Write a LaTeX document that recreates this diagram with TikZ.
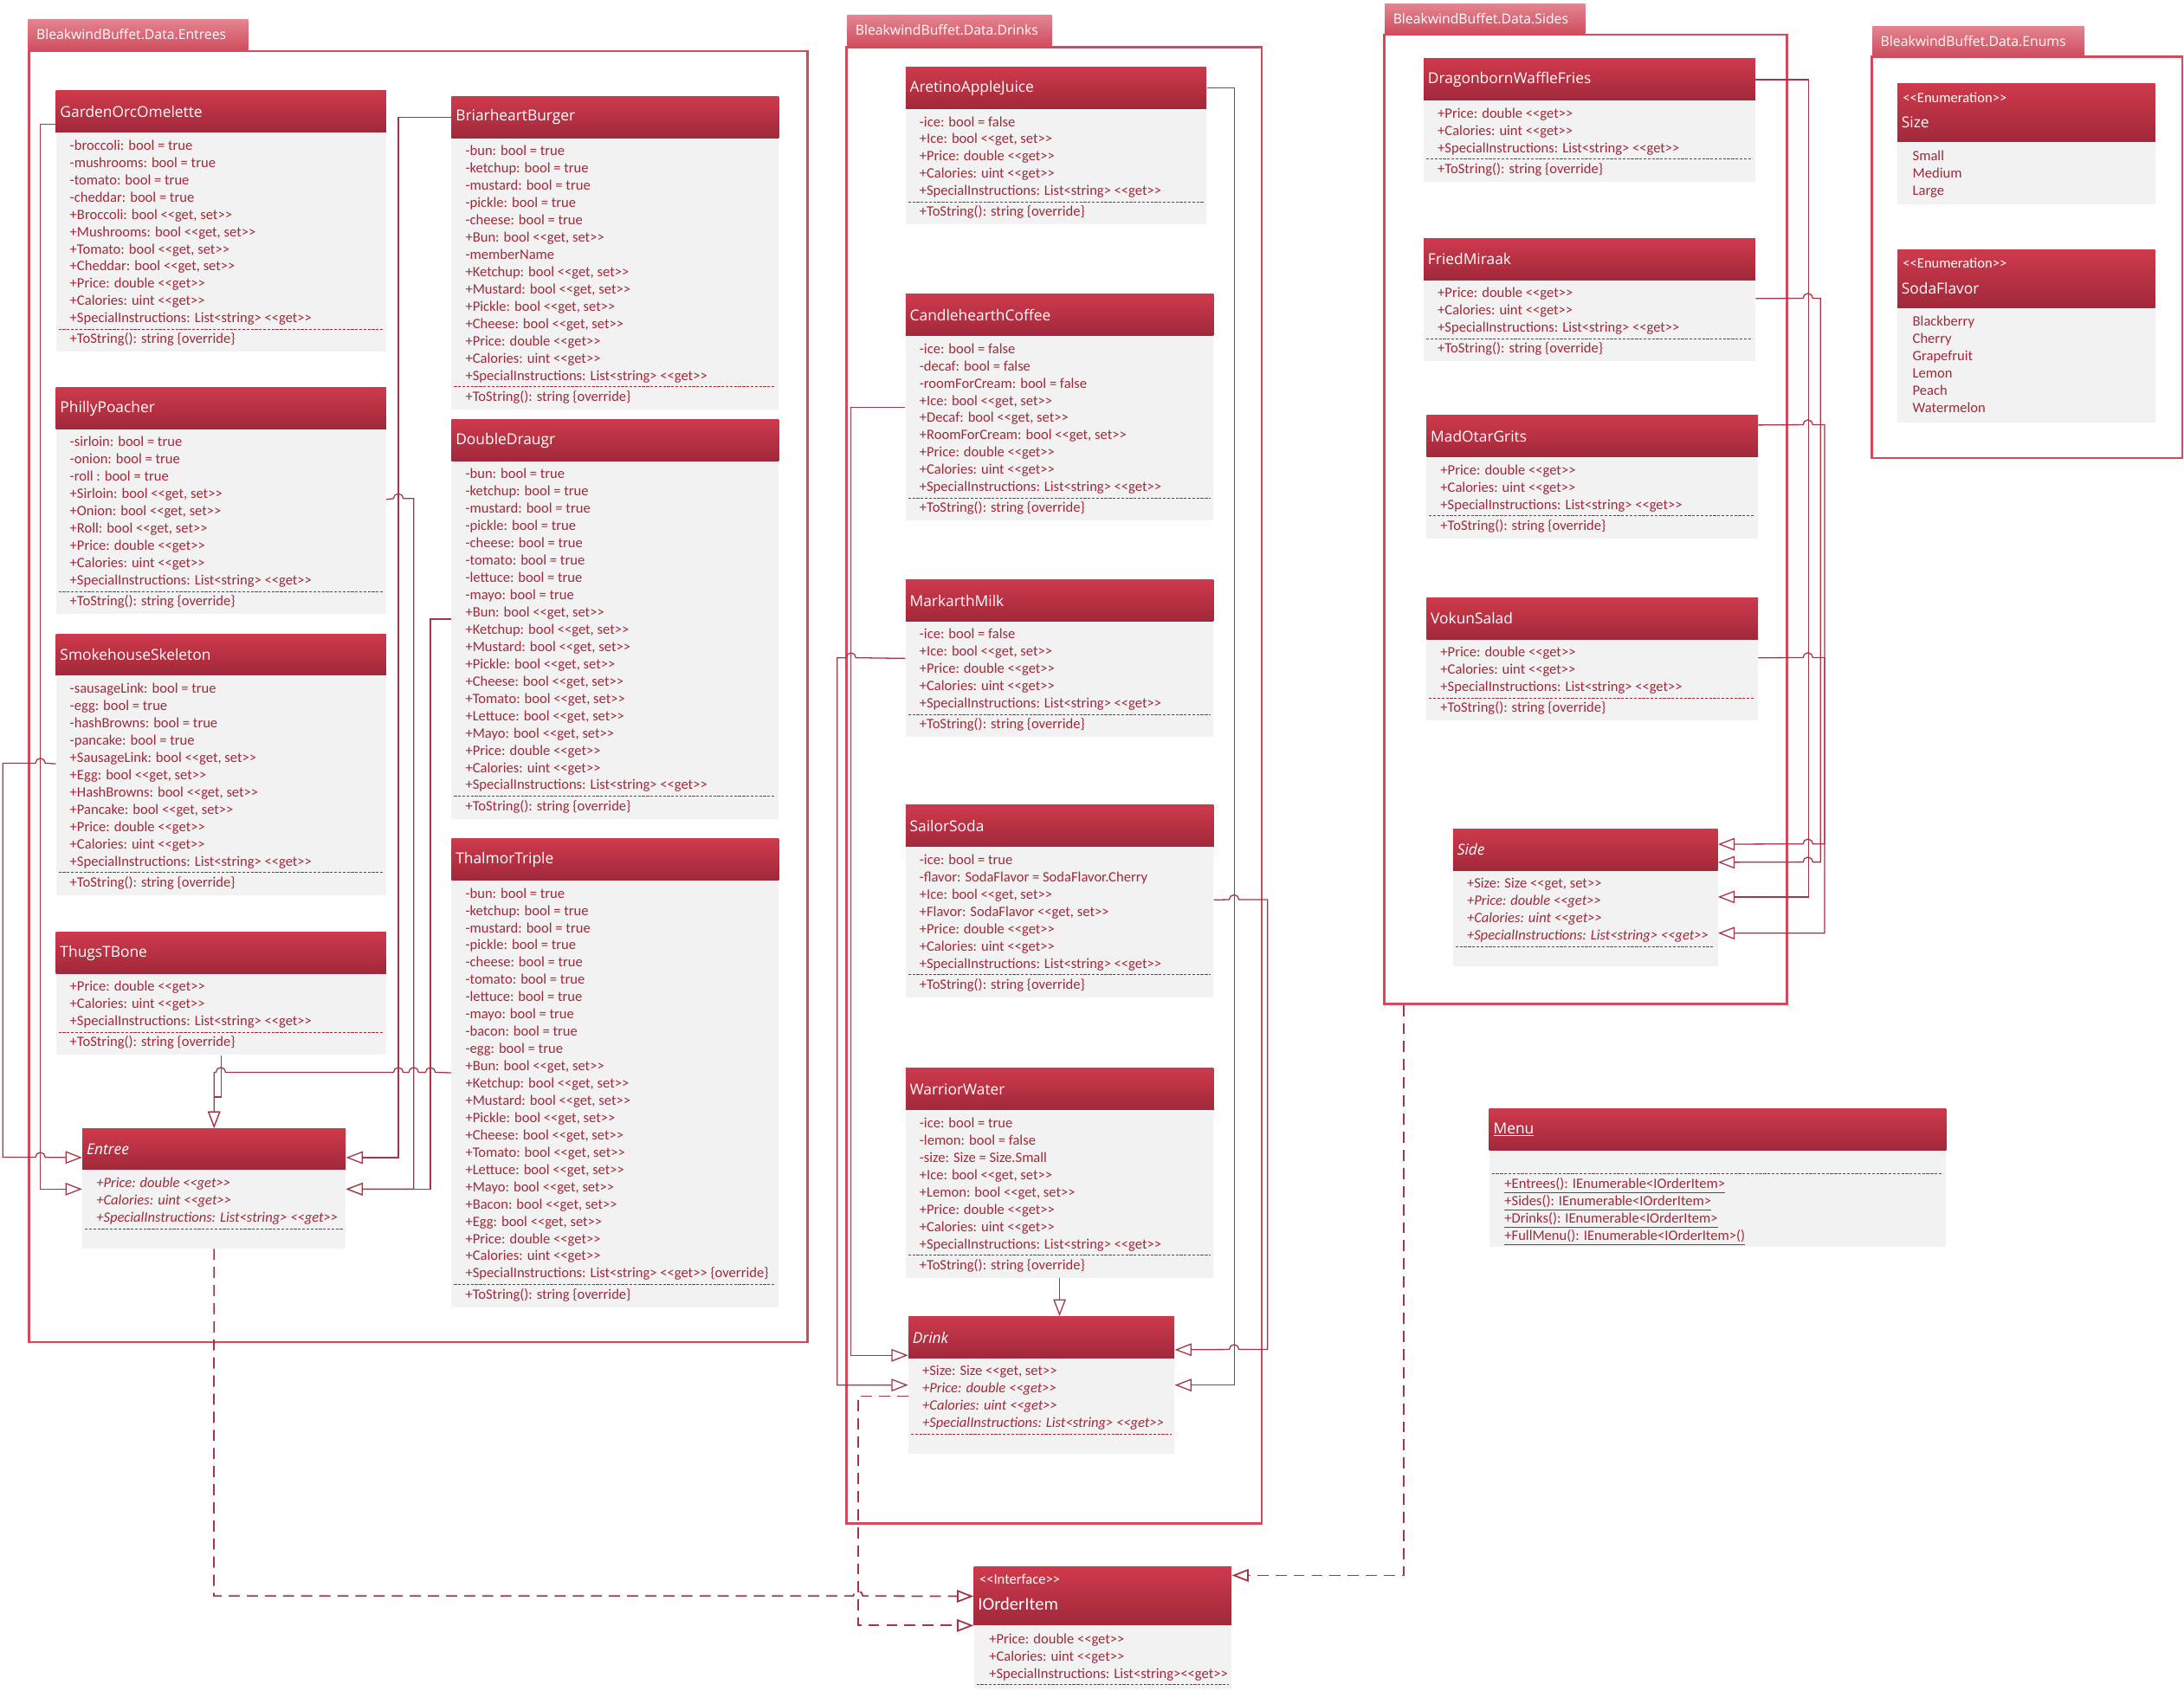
\documentclass[tikz,border=0pt]{standalone}
\usepackage{fontspec}
\setmainfont{Carlito}[Ligatures=TeXOff]
\newfontfamily\titlefont{Open Sans}[Ligatures=TeXOff]
\usetikzlibrary{arrows.meta}

\definecolor{hdrTop}{HTML}{CE3A4C}
\definecolor{hdrBot}{HTML}{A0283A}
\definecolor{bodyFill}{HTML}{F2F2F2}
\definecolor{txtRed}{HTML}{9E2A3A}
\definecolor{frameCol}{HTML}{D24A5C}
\definecolor{tabTop}{HTML}{E38590}
\definecolor{tabBot}{HTML}{D04E5F}
\definecolor{connCol}{HTML}{A53444}

\newcount\umlrows
\newcount\umlmeths

\tikzset{
  hdrbox/.style={top color=hdrTop, bottom color=hdrBot, draw=none, inner xsep=3pt, inner ysep=0pt, align=left, text=white, font=\titlefont\fontsize{10.8}{13}\selectfont},
  bodybox/.style={fill=bodyFill, draw=none, inner sep=0pt},
  rowtxt/.style={text=txtRed, inner sep=0pt, font=\fontsize{10.3}{12}\selectfont},
  stereotxt/.style={text=white, inner sep=0pt, font=\fontsize{10.3}{12}\selectfont},
  titletxt/.style={text=white, inner sep=0pt, font=\titlefont\fontsize{10.8}{13}\selectfont},
  ititletxt/.style={text=white, inner sep=0pt, font=\fontsize{12.8}{14}\selectfont},
  sepline/.style={draw=txtRed, dash pattern=on 2pt off 1pt, line width=0.6pt},
  pkgframe/.style={draw=frameCol, line width=1.6pt, inner sep=0pt},
  pkgtab/.style={top color=tabTop, bottom color=tabBot, draw=none, text=white, inner xsep=6pt, inner ysep=0pt, align=left, font=\titlefont\fontsize{9.8}{11}\selectfont},
  gen/.style={draw=connCol, line width=0.8pt, -{Triangle[open, length=12pt, width=9pt, fill=white]}},
  real/.style={gen, dash pattern=on 8pt off 5pt, line width=1.1pt},
}

% name, x1, x2, header top, header bottom, title, attributes, methods
\newcommand\umlclass[8]{%
  \pgfmathsetmacro\ucw{#3-#2}%
  \pgfmathsetmacro\uctw{#3-#2-6}%
  \pgfmathsetmacro\uchh{#5-#4}%
  \global\umlrows=0
  \foreach \rowtext in {#7} {\global\advance\umlrows by 1 }%
  \global\umlmeths=0
  \if\relax\detokenize{#8}\relax\else
    \foreach \rowtext in {#8} {\global\advance\umlmeths by 1 }%
  \fi
  \pgfmathsetmacro\udashy{#5+9.5+12.4*(\the\umlrows-1)+8}%
  \ifnum\umlmeths=0
    \pgfmathsetmacro\ubot{\udashy+14}%
  \else
    \pgfmathsetmacro\ubot{\udashy+7+12.4*(\the\umlmeths-1)+9}%
  \fi
  \pgfmathsetmacro\ubh{\ubot-#5}%
  \node[hdrbox, minimum width=\ucw pt, minimum height=\uchh pt, text width=\uctw pt, anchor=north west] (#1) at (#2,-#4) {#6};
  \node[bodybox, minimum width=\ucw pt, minimum height=\ubh pt, anchor=north west] (#1-body) at (#2,-#5) {};
  \foreach \rowtext [count=\i] in {#7} {%
    \pgfmathsetmacro\ury{#5+9.5+12.4*(\i-1)+3.3}%
    \node[rowtxt, anchor=base west] (#1-a\i) at ({#2+10},-\ury) {\rowtext};
  }
  \draw[sepline] ({#2+2},-\udashy) -- ({#3-2},-\udashy);
  \ifnum\umlmeths>0
    \foreach \rowtext [count=\i] in {#8} {%
      \pgfmathsetmacro\ury{\udashy+7+12.4*(\i-1)+3.3}%
      \node[rowtxt, anchor=base west] (#1-m\i) at ({#2+10},-\ury) {\rowtext};
    }
  \fi
}

% name, x1, x2, header top, header bottom, title, items
\newcommand\umlenum[7]{%
  \pgfmathsetmacro\ucw{#3-#2}%
  \pgfmathsetmacro\uchh{#5-#4}%
  \global\umlrows=0
  \foreach \rowtext in {#7} {\global\advance\umlrows by 1 }%
  \pgfmathsetmacro\ubh{10+12.4*(\the\umlrows-1)+10}%
  \node[hdrbox, minimum width=\ucw pt, minimum height=\uchh pt, anchor=north west] (#1) at (#2,-#4) {};
  \node[stereotxt, anchor=west] (#1-st) at ({#2+4},{-(#4+10)}) {<<Enumeration>>};
  \node[titletxt, anchor=west] (#1-ti) at ({#2+3},{-(#4+28)}) {#6};
  \node[bodybox, minimum width=\ucw pt, minimum height=\ubh pt, anchor=north west] (#1-body) at (#2,-#5) {};
  \foreach \rowtext [count=\i] in {#7} {%
    \pgfmathsetmacro\ury{#5+10+12.4*(\i-1)+3.3}%
    \node[rowtxt, anchor=base west] (#1-a\i) at ({#2+11},-\ury) {\rowtext};
  }
}

\begin{document}
\begin{tikzpicture}[x=1pt,y=1pt]
\path[use as bounding box] (0,0) rectangle (1568,-1214);

% ---------------- packages ----------------
\node[pkgframe, minimum width=559pt, minimum height=927pt, anchor=north west] (entreesPkg) at (20,-36) {};
\node[pkgtab, minimum height=22pt, text width=146pt, anchor=south west] (entreesTab) at (20,-36) {BleakwindBuffet.Data.Entrees};
\node[pkgframe, minimum width=298pt, minimum height=1060pt, anchor=north west] (drinksPkg) at (607,-33) {};
\node[pkgtab, minimum height=22pt, text width=135pt, anchor=south west] (drinksTab) at (608,-33) {BleakwindBuffet.Data.Drinks};
\node[pkgframe, minimum width=289pt, minimum height=696pt, anchor=north west] (sidesPkg) at (993,-24) {};
\node[pkgtab, minimum height=21pt, text width=132pt, anchor=south west] (sidesTab) at (994,-24) {BleakwindBuffet.Data.Sides};
\node[pkgframe, minimum width=223pt, minimum height=288pt, anchor=north west] (enumsPkg) at (1343,-40) {};
\node[pkgtab, minimum height=21pt, text width=140pt, anchor=south west] (enumsTab) at (1344,-40) {BleakwindBuffet.Data.Enums};

% ---------------- entrees ----------------
\umlclass{garden}{40}{277}{65}{95}{GardenOrcOmelette}{%
{-broccoli: bool = true},%
{-mushrooms: bool = true},%
{-tomato: bool = true},%
{-cheddar: bool = true},%
{+Broccoli: bool <<get, set>>},%
{+Mushrooms: bool <<get, set>>},%
{+Tomato: bool <<get, set>>},%
{+Cheddar: bool <<get, set>>},%
{+Price: double <<get>>},%
{+Calories: uint <<get>>},%
{+SpecialInstructions: List<string> <<get>>}}{{+ToString(): string \{override\}}}

\umlclass{philly}{40}{277}{278}{308}{PhillyPoacher}{%
{-sirloin: bool = true},%
{-onion: bool = true},%
{-roll : bool = true},%
{+Sirloin: bool <<get, set>>},%
{+Onion: bool <<get, set>>},%
{+Roll: bool <<get, set>>},%
{+Price: double <<get>>},%
{+Calories: uint <<get>>},%
{+SpecialInstructions: List<string> <<get>>}}{{+ToString(): string \{override\}}}

\umlclass{smoke}{40}{277}{455}{485}{SmokehouseSkeleton}{%
{-sausageLink: bool = true},%
{-egg: bool = true},%
{-hashBrowns: bool = true},%
{-pancake: bool = true},%
{+SausageLink: bool <<get, set>>},%
{+Egg: bool <<get, set>>},%
{+HashBrowns: bool <<get, set>>},%
{+Pancake: bool <<get, set>>},%
{+Price: double <<get>>},%
{+Calories: uint <<get>>},%
{+SpecialInstructions: List<string> <<get>>}}{{+ToString(): string \{override\}}}

\umlclass{thugs}{40}{277}{669}{699}{ThugsTBone}{%
{+Price: double <<get>>},%
{+Calories: uint <<get>>},%
{+SpecialInstructions: List<string> <<get>>}}{{+ToString(): string \{override\}}}

\umlclass{entree}{59}{248}{810}{840}{\itshape Entree}{%
{\itshape +Price: double <<get>>},%
{\itshape +Calories: uint <<get>>},%
{\itshape +SpecialInstructions: List<string> <<get>>}}{}

\umlclass{briar}{324}{559}{69}{99}{BriarheartBurger}{%
{-bun: bool = true},%
{-ketchup: bool = true},%
{-mustard: bool = true},%
{-pickle: bool = true},%
{-cheese: bool = true},%
{+Bun: bool <<get, set>>},%
{-memberName},%
{+Ketchup: bool <<get, set>>},%
{+Mustard: bool <<get, set>>},%
{+Pickle: bool <<get, set>>},%
{+Cheese: bool <<get, set>>},%
{+Price: double <<get>>},%
{+Calories: uint <<get>>},%
{+SpecialInstructions: List<string> <<get>>}}{{+ToString(): string \{override\}}}

\umlclass{double}{324}{559}{301}{331}{DoubleDraugr}{%
{-bun: bool = true},%
{-ketchup: bool = true},%
{-mustard: bool = true},%
{-pickle: bool = true},%
{-cheese: bool = true},%
{-tomato: bool = true},%
{-lettuce: bool = true},%
{-mayo: bool = true},%
{+Bun: bool <<get, set>>},%
{+Ketchup: bool <<get, set>>},%
{+Mustard: bool <<get, set>>},%
{+Pickle: bool <<get, set>>},%
{+Cheese: bool <<get, set>>},%
{+Tomato: bool <<get, set>>},%
{+Lettuce: bool <<get, set>>},%
{+Mayo: bool <<get, set>>},%
{+Price: double <<get>>},%
{+Calories: uint <<get>>},%
{+SpecialInstructions: List<string> <<get>>}}{{+ToString(): string \{override\}}}

\umlclass{thalmor}{324}{559}{602}{632}{ThalmorTriple}{%
{-bun: bool = true},%
{-ketchup: bool = true},%
{-mustard: bool = true},%
{-pickle: bool = true},%
{-cheese: bool = true},%
{-tomato: bool = true},%
{-lettuce: bool = true},%
{-mayo: bool = true},%
{-bacon: bool = true},%
{-egg: bool = true},%
{+Bun: bool <<get, set>>},%
{+Ketchup: bool <<get, set>>},%
{+Mustard: bool <<get, set>>},%
{+Pickle: bool <<get, set>>},%
{+Cheese: bool <<get, set>>},%
{+Tomato: bool <<get, set>>},%
{+Lettuce: bool <<get, set>>},%
{+Mayo: bool <<get, set>>},%
{+Bacon: bool <<get, set>>},%
{+Egg: bool <<get, set>>},%
{+Price: double <<get>>},%
{+Calories: uint <<get>>},%
{+SpecialInstructions: List<string> <<get>> \{override\}}}{{+ToString(): string \{override\}}}

% ---------------- drinks ----------------
\umlclass{aretino}{650}{866}{48}{78}{AretinoAppleJuice}{%
{-ice: bool = false},%
{+Ice: bool <<get, set>>},%
{+Price: double <<get>>},%
{+Calories: uint <<get>>},%
{+SpecialInstructions: List<string> <<get>>}}{{+ToString(): string \{override\}}}

\umlclass{coffee}{650}{871}{211}{241}{CandlehearthCoffee}{%
{-ice: bool = false},%
{-decaf: bool = false},%
{-roomForCream: bool = false},%
{+Ice: bool <<get, set>>},%
{+Decaf: bool <<get, set>>},%
{+RoomForCream: bool <<get, set>>},%
{+Price: double <<get>>},%
{+Calories: uint <<get>>},%
{+SpecialInstructions: List<string> <<get>>}}{{+ToString(): string \{override\}}}

\umlclass{milk}{650}{871}{416}{446}{MarkarthMilk}{%
{-ice: bool = false},%
{+Ice: bool <<get, set>>},%
{+Price: double <<get>>},%
{+Calories: uint <<get>>},%
{+SpecialInstructions: List<string> <<get>>}}{{+ToString(): string \{override\}}}

\umlclass{soda}{650}{871}{578}{608}{SailorSoda}{%
{-ice: bool = true},%
{-flavor: SodaFlavor = SodaFlavor.Cherry},%
{+Ice: bool <<get, set>>},%
{+Flavor: SodaFlavor <<get, set>>},%
{+Price: double <<get>>},%
{+Calories: uint <<get>>},%
{+SpecialInstructions: List<string> <<get>>}}{{+ToString(): string \{override\}}}

\umlclass{warrior}{650}{871}{767}{797}{WarriorWater}{%
{-ice: bool = true},%
{-lemon: bool = false},%
{-size: Size = Size.Small},%
{+Ice: bool <<get, set>>},%
{+Lemon: bool <<get, set>>},%
{+Price: double <<get>>},%
{+Calories: uint <<get>>},%
{+SpecialInstructions: List<string> <<get>>}}{{+ToString(): string \{override\}}}

\umlclass{drink}{652}{843}{945}{975}{\itshape Drink}{%
{+Size: Size <<get, set>>},%
{\itshape +Price: double <<get>>},%
{\itshape +Calories: uint <<get>>},%
{\itshape +SpecialInstructions: List<string> <<get>>}}{}

% ---------------- sides ----------------
\umlclass{dragon}{1022}{1260}{42}{72}{DragonbornWaffleFries}{%
{+Price: double <<get>>},%
{+Calories: uint <<get>>},%
{+SpecialInstructions: List<string> <<get>>}}{{+ToString(): string \{override\}}}

\umlclass{fried}{1022}{1260}{171}{201}{FriedMiraak}{%
{+Price: double <<get>>},%
{+Calories: uint <<get>>},%
{+SpecialInstructions: List<string> <<get>>}}{{+ToString(): string \{override\}}}

\umlclass{madotar}{1024}{1262}{298}{328}{MadOtarGrits}{%
{+Price: double <<get>>},%
{+Calories: uint <<get>>},%
{+SpecialInstructions: List<string> <<get>>}}{{+ToString(): string \{override\}}}

\umlclass{vokun}{1024}{1262}{429}{459}{VokunSalad}{%
{+Price: double <<get>>},%
{+Calories: uint <<get>>},%
{+SpecialInstructions: List<string> <<get>>}}{{+ToString(): string \{override\}}}

\umlclass{side}{1043}{1233}{595}{625}{\itshape Side}{%
{+Size: Size <<get, set>>},%
{\itshape +Price: double <<get>>},%
{\itshape +Calories: uint <<get>>},%
{\itshape +SpecialInstructions: List<string> <<get>>}}{}

% ---------------- enums ----------------
\umlenum{sizeEnum}{1362}{1547}{60}{102}{Size}{Small,Medium,Large}
\umlenum{flavorEnum}{1362}{1547}{179}{221}{SodaFlavor}{Blackberry,Cherry,Grapefruit,Lemon,Peach,Watermelon}

% ---------------- menu ----------------
\node[hdrbox, minimum width=328pt, minimum height=30pt, text width=322pt, anchor=north west] (menu) at (1069,-796) {\underline{Menu}};
\node[bodybox, minimum width=328pt, minimum height=69pt, anchor=north west] (menu-body) at (1069,-826) {};
\draw[sepline] (1071,-843) -- (1395,-843);
\node[rowtxt, anchor=base west] (menu-m1) at (1080,-853.3) {\underline{+Entrees(): IEnumerable<IOrderItem>}};
\node[rowtxt, anchor=base west] (menu-m2) at (1080,-865.7) {\underline{+Sides(): IEnumerable<IOrderItem>}};
\node[rowtxt, anchor=base west] (menu-m3) at (1080,-878.1) {\underline{+Drinks(): IEnumerable<IOrderItem>}};
\node[rowtxt, anchor=base west] (menu-m4) at (1080,-890.5) {\underline{+FullMenu(): IEnumerable<IOrderItem>()}};

% ---------------- IOrderItem ----------------
\node[hdrbox, minimum width=185pt, minimum height=42pt, anchor=north west] (iorder) at (699,-1125) {};
\node[stereotxt, anchor=west] (iorder-st) at (703,-1134) {<<Interface>>};
\node[ititletxt, anchor=west] (iorder-ti) at (702,-1152) {IOrderItem};
\node[bodybox, minimum width=185pt, minimum height=45pt, anchor=north west] (iorder-body) at (699,-1167) {};
\node[rowtxt, anchor=base west] (iorder-a1) at (710,-1180.3) {+Price: double <<get>>};
\node[rowtxt, anchor=base west] (iorder-a2) at (710,-1192.7) {+Calories: uint <<get>>};
\node[rowtxt, anchor=base west] (iorder-a3) at (710,-1205.1) {+SpecialInstructions: List<string><<get>>};
\draw[sepline] (701,-1209.5) -- (882,-1209.5);

% ---------------- connectors: entrees ----------------
\draw[gen] ([yshift=-9pt]garden.west) -- ++(-11,0) |- ([yshift=14.5pt]entree-body.west);
\draw[gen] ([yshift=15.5pt]smoke-body.west) -- (32.5,-548) arc[start angle=0,end angle=180,radius=3.5]
  -- (2,-548) -- (2,-831) -- (25.5,-831) arc[start angle=180,end angle=0,radius=3.5] -- ([yshift=-6pt]entree.west);
\draw[gen] ([yshift=16pt]philly-body.east) -- (282.5,-358) arc[start angle=180,end angle=0,radius=3.5]
  -- (297,-358) |- ([yshift=14.5pt]entree-body.east);
\draw[gen] (briar.west) -- ++(-38,0) |- ([yshift=-6pt]entree.east);
\draw[gen] ([yshift=15pt]double-body.west) -- ++(-15,0) |- ([yshift=14.5pt]entree-body.east);
\draw[gen] ([yshift=15pt]thalmor-body.west) -- (312.5,-770) arc[start angle=0,end angle=180,radius=3.5]
  -- (300.5,-770) arc[start angle=0,end angle=180,radius=3.5]
  -- (289.5,-770) arc[start angle=0,end angle=180,radius=3.5]
  -- (162,-770) arc[start angle=0,end angle=180,radius=3.5] -| (entree.north);
\draw[gen] (thugs-body.south) -- ++(0,-30) -| (entree.north);
\draw[real] (entree-body.south) -- (153.5,-1146) -- (612.5,-1146) arc[start angle=180,end angle=0,radius=3.5] -- (iorder.west);

% ---------------- connectors: drinks ----------------
\draw[gen] (aretino.east) -- ++(20,0) |- ([yshift=15pt]drink-body.east);
\draw[gen] ([yshift=15pt]coffee-body.west) -- ++(-39,0) |- ([yshift=-13pt]drink.west);
\draw[gen] ([yshift=15pt]milk-body.west) -- (614.5,-472.3) arc[start angle=0,end angle=180,radius=3.5]
  -- (601,-472.3) |- ([yshift=15pt]drink-body.west);
\draw[gen] ([yshift=16pt]soda-body.east) -- (882.5,-646) arc[start angle=180,end angle=0,radius=3.5]
  -- (910,-646) -- (910,-969) -- (889.5,-969) arc[start angle=0,end angle=180,radius=3.5] -- ([yshift=-9pt]drink.east);
\draw[gen] (warrior-body.south) -- (warrior-body.south |- drink.north);
\draw[real] ([yshift=7pt]drink-body.west) -- ++(-36,0) |- ([yshift=-21pt]iorder.west);

% ---------------- connectors: sides ----------------
\draw[gen] (dragon.east) -- ++(38,0) |- ([yshift=15.5pt]side-body.east);
\draw[gen] ([yshift=16pt]fried-body.east) -- (1294.5,-214.2) arc[start angle=180,end angle=0,radius=3.5]
  -- (1307,-214.2) -- (1307,-619) -- (1301.5,-619) arc[start angle=0,end angle=180,radius=3.5] -- ([yshift=-9pt]side.east);
\draw[gen] ([yshift=8pt]madotar.east) -- (1294.5,-305) arc[start angle=180,end angle=0,radius=3.5]
  -- (1310,-305) |- ([yshift=-10.5pt]side-body.east);
\draw[gen] ([yshift=16pt]vokun-body.east) -- (1294.5,-472.2) arc[start angle=180,end angle=0,radius=3.5]
  -- (1310,-472.2) -- (1310,-606) -- (1301.5,-606) arc[start angle=0,end angle=180,radius=3.5] -- ([yshift=4pt]side.east);
\draw[real] ([xshift=15pt]sidesPkg.south west) |- ([yshift=15pt]iorder.east);

\end{tikzpicture}
\end{document}
